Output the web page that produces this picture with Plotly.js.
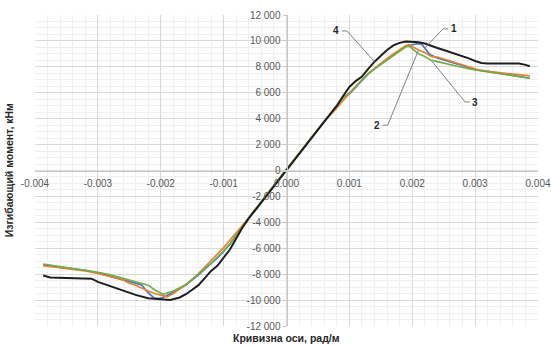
<!DOCTYPE html>
<html>
<head>
<meta charset="utf-8">
<script src="https://cdn.plot.ly/plotly-3.0.1.min.js"></script>
<style>
  html, body { margin: 0; padding: 0; background: #ffffff; }
  #chart { width: 551px; height: 345px; }
</style>
</head>
<body>
<div id="chart"></div>
<script>
// Moment–curvature curves, four specimens (curvature in rad/m, moment in kNm)
const curv1 = [-0.00387,-0.0036,-0.0034,-0.0032,-0.0030,-0.0028,-0.0026,-0.0025,-0.0024,-0.0023,-0.0022,-0.0021,-0.0020,-0.0019,-0.0018,-0.0016,-0.0014,-0.0012,-0.0011,-0.0010,-0.0009,-0.0008,-0.0007,-0.0006,-0.0004,-0.0002,0,0.0002,0.0004,0.0006,0.0007,0.0008,0.0009,0.00096,0.0010,0.0011,0.0012,0.0013,0.0014,0.0015,0.0016,0.0017,0.0018,0.0019,0.0020,0.00207,0.00215,0.0022,0.00228,0.0024,0.0026,0.0028,0.0030,0.0032,0.0034,0.0036,0.0038,0.00387];
const moment1 = [-7300,-7450,-7600,-7700,-7900,-8150,-8400,-8550,-8700,-8850,-9450,-9850,-9870,-9650,-9400,-8850,-8050,-7200,-6750,-6250,-5700,-5000,-4300,-3650,-2400,-1150,50,1300,2550,3800,4350,4950,5650,5850,5900,6400,6950,7450,7850,8200,8600,8950,9300,9600,9700,9780,9750,9450,8950,8680,8400,8100,7800,7650,7500,7350,7200,7120];

const curv2 = [-0.00387,-0.0036,-0.0034,-0.0032,-0.0030,-0.0028,-0.0026,-0.0025,-0.0024,-0.0022,-0.0021,-0.0019,-0.0018,-0.0016,-0.0014,-0.0012,-0.0010,-0.0008,-0.0007,-0.0006,-0.0004,-0.0002,0,0.0002,0.0004,0.0006,0.0007,0.0008,0.0009,0.0010,0.0011,0.0012,0.0013,0.0014,0.0015,0.0016,0.0017,0.0018,0.0019,0.00195,0.0020,0.0021,0.0022,0.0023,0.0024,0.0025,0.0026,0.0027,0.0028,0.0029,0.0030,0.0031,0.0032,0.0034,0.0036,0.0038,0.00387];
const moment2 = [-7350,-7500,-7600,-7750,-7950,-8200,-8450,-8700,-8850,-9300,-9500,-9750,-9500,-8800,-7950,-6950,-5950,-4800,-4250,-3650,-2400,-1150,50,1300,2550,3800,4300,4800,5400,5950,6500,7000,7500,7900,8250,8650,9000,9350,9650,9700,9550,9300,9100,8800,8750,8600,8400,8300,8100,8000,7800,7700,7650,7550,7450,7350,7300];

const curv3 = [-0.00387,-0.0036,-0.00344,-0.0032,-0.0030,-0.0028,-0.0026,-0.0025,-0.0024,-0.0023,-0.0022,-0.0021,-0.0020,-0.00196,-0.0018,-0.0016,-0.0014,-0.0012,-0.0010,-0.0009,-0.0008,-0.0007,-0.0006,-0.0004,-0.0002,0,0.0002,0.0004,0.0006,0.0007,0.0008,0.0009,0.0010,0.0011,0.0012,0.0013,0.0014,0.0015,0.0016,0.0017,0.0018,0.0019,0.00195,0.0020,0.0021,0.0022,0.0023,0.0024,0.0026,0.0028,0.0030,0.0032,0.0034,0.0036,0.0038,0.00387];
const moment3 = [-7220,-7400,-7550,-7700,-7850,-8050,-8300,-8450,-8600,-8700,-8850,-9200,-9500,-9560,-9300,-8800,-8000,-7150,-6200,-5650,-5000,-4300,-3650,-2400,-1150,50,1300,2550,3800,4350,4950,5600,6000,6500,7000,7450,7850,8200,8550,8900,9250,9550,9600,9400,9000,8800,8500,8400,8150,7950,7750,7600,7480,7350,7200,7120];

const curv4 = [-0.00387,-0.00376,-0.0035,-0.0032,-0.0031,-0.0030,-0.0028,-0.0026,-0.0024,-0.0022,-0.0020,-0.00185,-0.0017,-0.0016,-0.0015,-0.0014,-0.0013,-0.0012,-0.0011,-0.0010,-0.0009,-0.0008,-0.0007,-0.0006,-0.0004,-0.0002,0,0.0002,0.0004,0.0006,0.0007,0.0008,0.0009,0.0010,0.0011,0.0012,0.0013,0.0014,0.0015,0.0016,0.0017,0.0018,0.0019,0.0020,0.0021,0.0022,0.0023,0.0024,0.0025,0.0026,0.0027,0.0028,0.0029,0.0030,0.0031,0.0032,0.0033,0.0034,0.0035,0.0036,0.0037,0.0038,0.00387];
const moment4 = [-8100,-8250,-8300,-8300,-8350,-8600,-8950,-9300,-9600,-9850,-9950,-10000,-9800,-9550,-9200,-8850,-8300,-7750,-7350,-6750,-6100,-5250,-4400,-3700,-2450,-1200,50,1300,2550,3800,4350,5000,5750,6450,6900,7250,7850,8400,8850,9300,9650,9850,9950,9950,9900,9800,9600,9450,9300,9150,9000,8850,8650,8450,8300,8250,8250,8250,8200,8250,8250,8150,8050];

const seriesNames = ['1', '2', '3', '4'];
const seriesColors = ['#4472c4', '#ed7d31', '#70ad47', '#1e1e1e'];

// Axis ticks
const xTickVals = [-0.004, -0.003, -0.002, -0.001, 0, 0.001, 0.002, 0.003, 0.004];
const xTickText = ['-0.004', '-0.003', '-0.002', '-0.001', '0.000', '0.001', '0.002', '0.003', '0.004'];
const yTickVals = [-12000, -10000, -8000, -6000, -4000, -2000, 0, 2000, 4000, 6000, 8000, 10000, 12000];
const yTickText = ['-12 000', '-10 000', '-8 000', '-6 000', '-4 000', '-2 000', '0', '2 000', '4 000', '6 000', '8 000', '10 000', '12 000'];

const xs = [curv1, curv2, curv3, curv4];
const ys = [moment1, moment2, moment3, moment4];

const traces = xs.map((x, i) => ({
  type: 'scatter',
  mode: 'lines',
  name: seriesNames[i],
  x: x,
  y: ys[i],
  line: { color: seriesColors[i], width: i === 3 ? 2 : 1.6, shape: 'linear' },
  hoverinfo: 'skip'
}));

// point on a series at a given curvature (leader-line target)
function pointAt(k, xv) {
  const idx = xs[k].indexOf(xv);
  return [xs[k][idx], ys[k][idx]];
}

// callout labels: series index, label anchor, dash start/end, curvature of target point
const callouts = [
  { k: 3, tx: 0.00079, ty: 10770, d0: 0.00088, d1: 0.00096, dy: 10770, target: 0.0014 },
  { k: 0, tx: 0.00266, ty: 10930, d0: 0.00257, d1: 0.00249, dy: 10930, target: 0.0022 },
  { k: 1, tx: 0.00144, ty: 3440, d0: 0.00153, d1: 0.00161, dy: 3500, target: 0.0021 },
  { k: 2, tx: 0.00300, ty: 5210, d0: 0.00292, d1: 0.00284, dy: 5290, target: 0.0023 }
];

const leaderColor = '#808080';
const labelFont = { family: 'Liberation Sans, Arial, sans-serif', size: 10, color: '#262626' };
const shapes = [];
const annotations = [];
callouts.forEach(c => {
  const p = pointAt(c.k, c.target);
  shapes.push({ type: 'line', xref: 'x', yref: 'y', x0: c.d0, y0: c.dy, x1: c.d1, y1: c.dy,
                line: { color: leaderColor, width: 1 } });
  shapes.push({ type: 'line', xref: 'x', yref: 'y', x0: c.d1, y0: c.dy, x1: p[0], y1: p[1],
                line: { color: leaderColor, width: 1 } });
  annotations.push({ xref: 'x', yref: 'y', x: c.tx, y: c.ty, text: '<b>' + seriesNames[c.k] + '</b>',
                     showarrow: false, xanchor: 'center', yanchor: 'middle', font: labelFont });
});

// axis titles
const titleFont = { family: 'Liberation Sans, Arial, sans-serif', size: 10.5, color: '#262626' };
annotations.push({ xref: 'paper', yref: 'paper', x: -0.052, y: 0.5, textangle: -90,
                   text: '<b>Изгибающий момент, кНм</b>', showarrow: false,
                   xanchor: 'center', yanchor: 'middle', font: titleFont });
annotations.push({ xref: 'paper', yref: 'paper', x: 0.5, y: -0.037, yanchor: 'middle',
                   text: '<b>Кривизна оси, рад/м</b>', showarrow: false, xanchor: 'center',
                   font: titleFont });

const tickFont = { family: 'Liberation Sans, Arial, sans-serif', size: 10, color: '#595959' };

const layout = {
  width: 551,
  height: 345,
  margin: { l: 35, r: 13, t: 15, b: 19 },
  paper_bgcolor: '#ffffff',
  plot_bgcolor: '#ffffff',
  showlegend: false,
  xaxis: {
    range: [-0.004, 0.004],
    anchor: 'free',
    position: 0.5,
    tickvals: xTickVals,
    ticktext: xTickText,
    tickfont: tickFont,
    ticks: 'outside',
    ticklen: 3,
    tickcolor: 'rgba(0,0,0,0)',
    showline: true,
    linecolor: '#c8c8c8',
    linewidth: 1,
    showgrid: true,
    gridcolor: '#d9d9d9',
    gridwidth: 1,
    zeroline: false,
    minor: { dtick: 0.0002, showgrid: true, gridcolor: '#efefef', gridwidth: 1 }
  },
  yaxis: {
    range: [-12000, 12000],
    anchor: 'free',
    position: 0.5,
    tickvals: yTickVals,
    ticktext: yTickText,
    tickfont: tickFont,
    ticks: 'outside',
    ticklen: 4,
    tickcolor: '#c8c8c8',
    showline: true,
    linecolor: '#c8c8c8',
    linewidth: 1,
    showgrid: true,
    gridcolor: '#d9d9d9',
    gridwidth: 1,
    zeroline: false,
    minor: { dtick: 500, showgrid: true, gridcolor: '#efefef', gridwidth: 1 }
  },
  shapes: shapes,
  annotations: annotations
};

Plotly.newPlot('chart', traces, layout, { staticPlot: true, displayModeBar: false });
</script>
</body>
</html>
